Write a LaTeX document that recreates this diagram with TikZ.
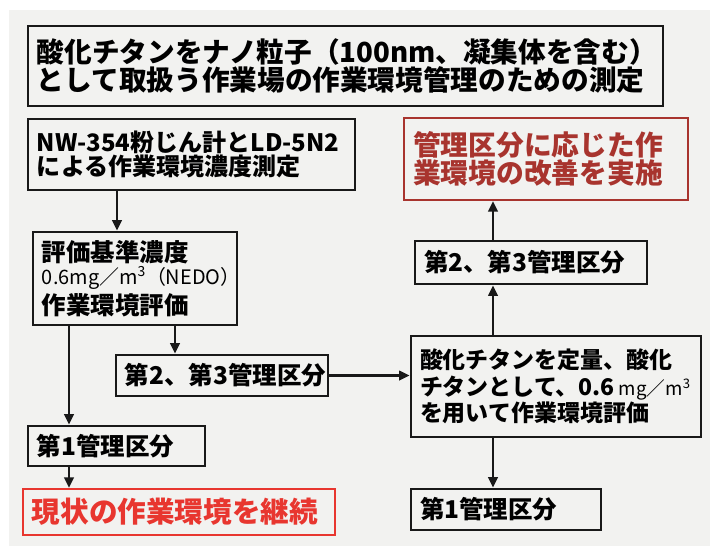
\documentclass[tikz,border=0pt]{standalone}
\usepackage{fontspec}
\setmainfont{Noto Sans CJK JP}
\usetikzlibrary{arrows.meta}
\definecolor{Shu}{HTML}{E8362F}
\definecolor{Enji}{HTML}{A8342E}
\definecolor{Kami}{HTML}{F2F2F0}
\newcommand{\fs}[2]{\fontsize{#1}{#2}\selectfont}
\tikzset{
  waku/.style     = {rectangle, draw=black!90, line width=2.3pt, align=left,
                     inner xsep=0.27cm, inner ysep=0pt, font=\bfseries},
  akawaku/.style  = {waku, draw=Shu, text=Shu, line width=1.8pt},
  enjiwaku/.style = {waku, draw=Enji, text=Enji, line width=1.8pt},
  ya/.style       = {-{Triangle[length=9pt, width=8pt]}, line width=2.1pt, draw=black!90},
}

\begin{document}
\begin{tikzpicture}[x=0.03cm, y=-0.03cm]
  \useasboundingbox (0,0) rectangle (710,546);
  \fill[white] (0,0) rectangle (710,546);
  \fill[Kami] (9,10) rectangle (710,546);
  % --- midashi ---
  \node[waku, text width=18.51cm, minimum height=2.4cm] at (345.5,66) (title)
       {\fs{23.6}{31.6}\bfseries 酸化チタンをナノ粒子（100nm、凝集体を含む）\\として取扱う作業場の作業環境管理のための測定};

  % --- hidari ---
  \node[waku, text width=9.27cm, minimum height=2.13cm] at (191.5,154.5) (meas)
       {\fs{20.5}{28.2}\bfseries NW-354粉じん計とLD-5N2\\による作業環境濃度測定};
  \node[waku, text width=5.58cm, minimum height=2.79cm] at (135,278.5) (eval)
       {\fs{20.9}{21.5}\bfseries 評価基準濃度\\[-2pt]
        {\mdseries\fs{17}{21.5}0.6mg／m\textsuperscript{3}（NEDO）}\\[2.4pt]
        作業環境評価};
  \node[waku, text width=5.82cm, minimum height=1.23cm] at (222,375.5) (kubun23l)
       {\fs{20.9}{24}\bfseries 第2、第3管理区分};
  \node[waku, text width=4.77cm, minimum height=1.2cm] at (116.5,446) (kubun1l)
       {\fs{20.9}{24}\bfseries 第1管理区分};
  \node[akawaku, text width=8.82cm, minimum height=1.38cm] at (179,512) (keizoku)
       {\fs{24.4}{28}\bfseries 現状の作業環境を継続};

  % --- migi ---
  \node[enjiwaku, text width=7.98cm, minimum height=2.46cm] at (546,159) (kaizen)
       {\fs{23.7}{24.8}\bfseries 管理区分に応じた作\\業環境の改善を実施};
  \node[waku, text width=6.42cm, minimum height=1.29cm] at (531,262.5) (kubun23r)
       {\fs{20.9}{24}\bfseries 第2、第3管理区分};
  \node[waku, text width=8.16cm, minimum height=3.03cm] at (556,386.5) (teiryo)
       {\fs{19.6}{23}\bfseries 酸化チタンを定量、酸化\\
        チタンとして、0.6 {\mdseries\fs{16}{23}mg／m\textsuperscript{3}}\\
        を用いて作業環境評価};
  \node[waku, text width=5.16cm, minimum height=1.23cm] at (506,509.5) (kubun1r)
       {\fs{20.9}{24}\bfseries 第1管理区分};

  % --- ya ---
  \coordinate (a0) at ([xshift=-0.54cm]eval.north);
  \coordinate (a1) at ([xshift=-1.98cm]eval.south);
  \coordinate (a2) at ([xshift=1.2cm]eval.south);
  \coordinate (r1) at ([xshift=-1.89cm]teiryo.north);

  \draw[ya] (a0 |- meas.south) -- (a0);
  \draw[ya] (a1) -- (a1 |- kubun1l.north);
  \draw[ya] (a1 |- kubun1l.south) -- (a1 |- keizoku.north);
  \draw[ya] (a2) -- (a2 |- kubun23l.north);
  \draw[ya] (kubun23l.east) -- (kubun23l.east -| teiryo.west);
  \draw[ya] (r1) -- (r1 |- kubun23r.south);
  \draw[ya] (r1 |- kubun23r.north) -- (r1 |- kaizen.south);
  \draw[ya] (r1 |- teiryo.south) -- (r1 |- kubun1r.north);
\end{tikzpicture}
\end{document}
